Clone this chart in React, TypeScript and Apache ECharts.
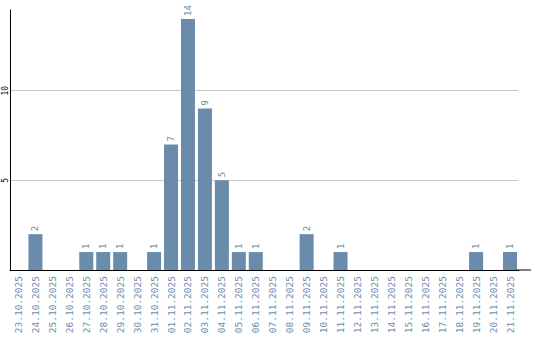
import React, { useEffect, useRef } from "react";
import * as echarts from "echarts";

const categories = [
  "23.10.2025", "24.10.2025", "25.10.2025", "26.10.2025", "27.10.2025",
  "28.10.2025", "29.10.2025", "30.10.2025", "31.10.2025", "01.11.2025",
  "02.11.2025", "03.11.2025", "04.11.2025", "05.11.2025", "06.11.2025",
  "07.11.2025", "08.11.2025", "09.11.2025", "10.11.2025", "11.11.2025",
  "12.11.2025", "13.11.2025", "14.11.2025", "15.11.2025", "16.11.2025",
  "17.11.2025", "18.11.2025", "19.11.2025", "20.11.2025", "21.11.2025",
];
const values = [
  0, 2, 0, 0, 1, 1, 1, 0, 1, 7,
  14, 9, 5, 1, 1, 0, 0, 2, 0, 1,
  0, 0, 0, 0, 0, 0, 0, 1, 0, 1,
];
const yTickLabels = [5, 10];

const BAR = "#6a8bab";
const FONT = "DejaVu Sans Mono";

export default function App() {
  const ref = useRef<HTMLDivElement>(null);
  useEffect(() => {
    if (!ref.current) return;
    const chart = echarts.init(ref.current, null, { renderer: "svg" });
    chart.setOption({
      animation: false,
      grid: { left: 10, right: 21.5, top: 10, bottom: 70, outerBoundsMode: "none" },
      xAxis: {
        type: "category",
        data: categories,
        axisLine: { lineStyle: { color: "#000", width: 1 } },
        axisTick: { show: false },
        axisLabel: {
          rotate: 90,
          interval: 0,
          margin: 6,
          color: BAR,
          fontFamily: FONT,
          fontSize: 9.5,
        },
      },
      yAxis: {
        type: "value",
        min: 0,
        max: 14.5,
        interval: 5,
        axisLine: { show: true, lineStyle: { color: "#000", width: 1 } },
        axisTick: { show: false },
        splitLine: { showMaxLine: false, lineStyle: { color: "#c8c8c8", width: 1 } },
        axisLabel: { show: false },
      },
      series: [
        {
          type: "bar",
          data: values,
          barWidth: 14,
          itemStyle: { color: BAR },
          label: {
            show: true,
            position: "top",
            rotate: 90,
            align: "left",
            verticalAlign: "middle",
            distance: 3,
            color: BAR,
            fontFamily: FONT,
            fontSize: 9,
            formatter: (p: any) => (p.value ? String(p.value) : ""),
          },
        },
      ],
    });
    const y0 = chart.convertToPixel({ yAxisIndex: 0 }, 0) as number;
    const xEnd = chart.convertToPixel({ xAxisIndex: 0 }, categories[categories.length - 1]) as number;
    const graphics: any[] = [
      {
        type: "line",
        shape: { x1: xEnd, y1: y0, x2: 531, y2: y0 },
        style: { stroke: "#000", lineWidth: 1 },
      },
    ];
    yTickLabels.forEach((v) => {
      const py = chart.convertToPixel({ yAxisIndex: 0 }, v) as number;
      graphics.push({
        type: "text",
        x: 5,
        y: py,
        rotation: Math.PI / 2,
        style: {
          text: String(v),
          align: "center",
          verticalAlign: "middle",
          fill: "#000",
          fontFamily: FONT,
          fontSize: 8,
        },
      });
    });
    chart.setOption({ graphic: graphics });
    return () => chart.dispose();
  }, []);
  return (
    <div
      ref={ref}
      style={{ position: "absolute", left: 0, top: 0, width: 540, height: 340 }}
    />
  );
}
